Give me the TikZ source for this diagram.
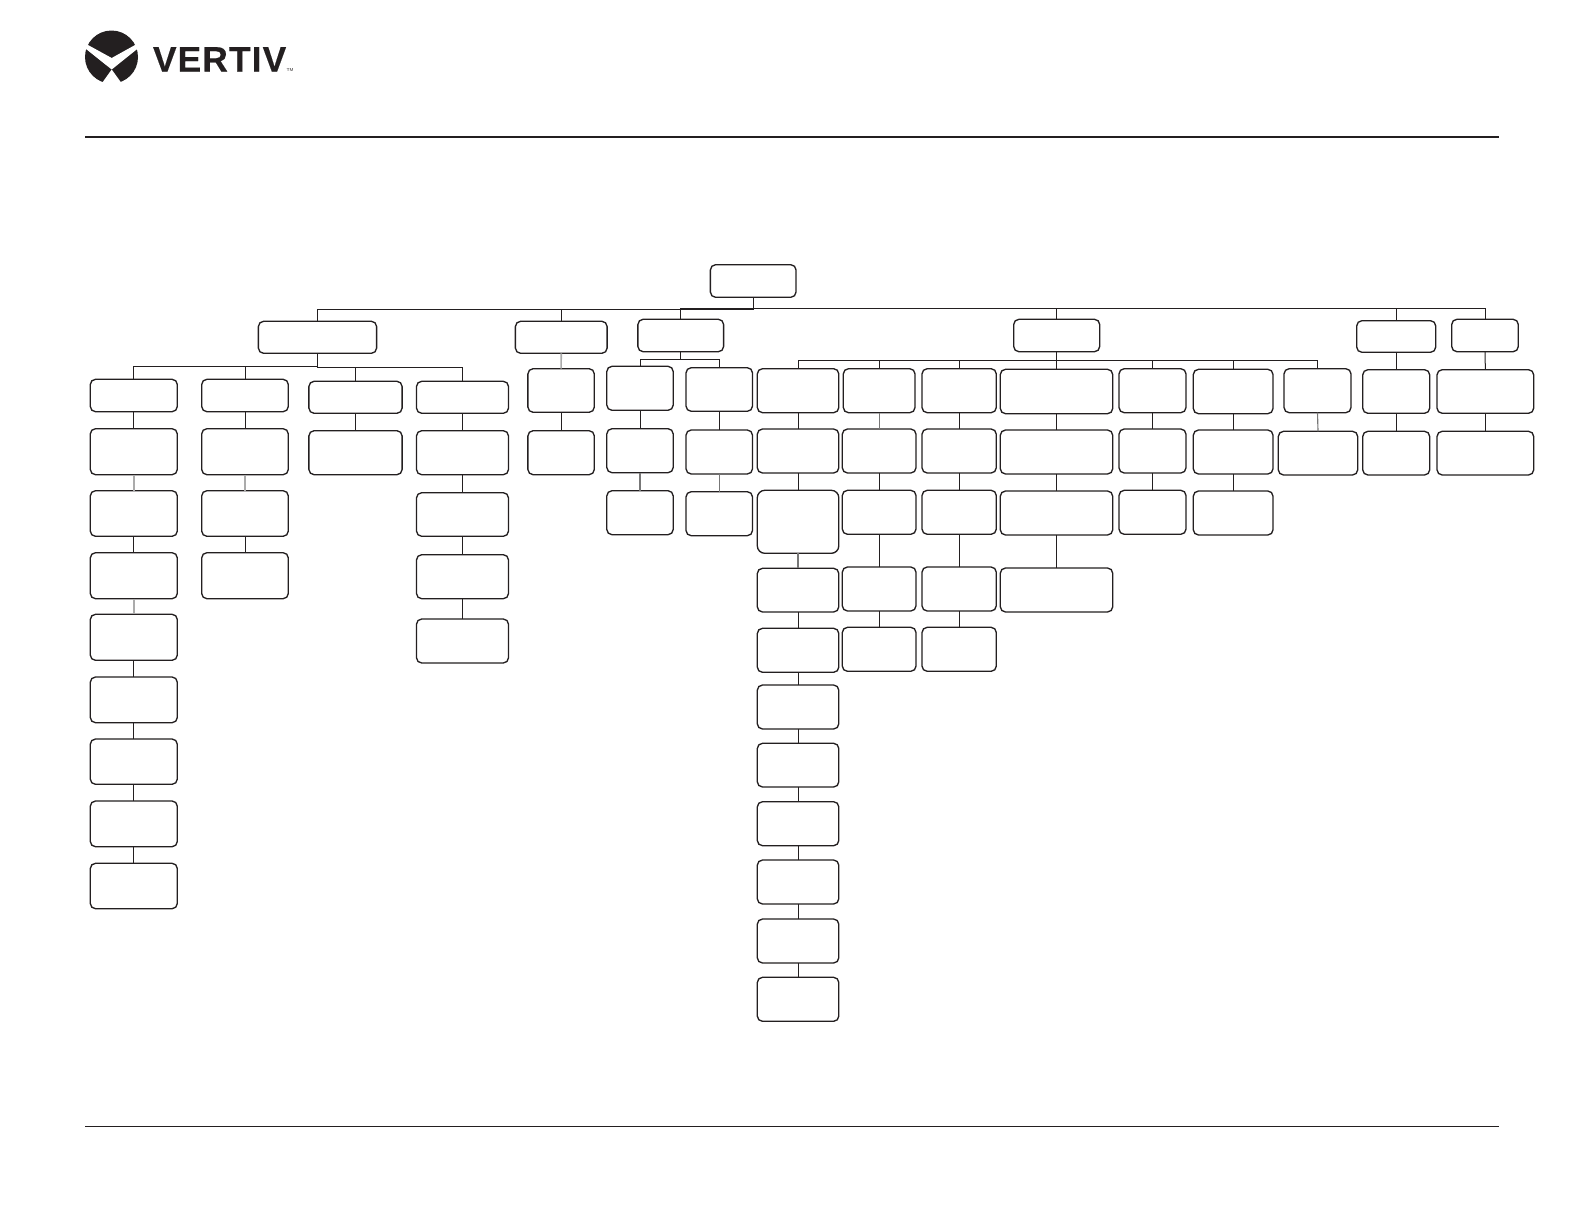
\documentclass[tikz,border=0pt]{standalone}
\usepackage{fontspec}
\newfontfamily\logofont[LetterSpace=3.2,BoldFeatures={FakeBold=0.35}]{Liberation Sans}
\definecolor{ink}{HTML}{231F20}
\definecolor{midline}{HTML}{777777}
\definecolor{paleline}{HTML}{ABABAB}
\tikzset{
  boxn/.style={draw=ink,fill=white,line width=1.0pt,rounded corners=3.9pt,inner sep=0pt,outer sep=0pt},
  bigbox/.style={rounded corners=5.6pt},
  con/.style={draw=ink,line width=.75pt},
  midcon/.style={draw=midline,line width=.85pt},
  palecon/.style={draw=paleline,line width=1.2pt},
  rulethick/.style={draw=ink,line width=1.55pt},
  rulethin/.style={draw=ink,line width=.8pt},
  logotext/.style={inner sep=0pt,outer sep=0pt,text=ink,anchor=base west}
}
\newcommand{\bx}[6][]{\node[boxn,#1,minimum width={(#4-#2)*.75pt},minimum height={(#5-#3)*.75pt}] (#6) at ({(#2+#4)/2},{(#3+#5)/2}) {};}
\begin{document}
\begin{tikzpicture}[x=.75pt,y=-.75pt]
\useasboundingbox (0,0) rectangle (1584,1224);
\fill[white] (0,0) rectangle (1584,1224);
% logo
\begin{scope}
\fill[ink] (111.5,57) circle (26.5);
\fill[white] (84,42.8) -- (111.7,58) -- (139,42.8) -- (139,47.6) -- (111.7,69.5) -- (84,47.4) -- cycle;
\fill[white] (111.7,69.5) -- (101,84.5) -- (122.5,84.5) -- cycle;
\end{scope}
\node[logotext] (logoword) at (153,71.5) {\logofont\fontsize{26.5}{26.5}\selectfont\bfseries VERTIV};
\node[logotext] (logotm) at (286.5,71.5) {\fontsize{3.2}{3.2}\selectfont\sffamily TM};
\coordinate (ruleAl) at (85,137);
\coordinate (ruleAr) at (1499,137);
\coordinate (ruleBl) at (85,1126.5);
\coordinate (ruleBr) at (1499,1126.5);
\draw[rulethick] (ruleAl) -- (ruleAr);
\draw[rulethin] (ruleBl) -- (ruleBr);
% top levels
\bx{710.4}{264.7}{796}{297.3}{root}
\bx{258.4}{321.3}{376.6}{353.3}{D}
\bx{515.4}{321.3}{607.1}{353.3}{E}
\bx{637.9}{319.3}{723.6}{351.7}{F}
\bx{1013.7}{319.3}{1099.7}{351.7}{H}
\bx{1356.7}{320.7}{1435.7}{352.3}{P}
\bx{1451.7}{319.3}{1518.3}{351.7}{Q}
% column A
\bx{90.3}{379.3}{177.3}{411.7}{A1}
\bx{90.3}{428.7}{177.3}{474.7}{A2}
\bx{90.3}{490.7}{177.3}{536.3}{A3}
\bx{90.3}{552.7}{177.3}{598.7}{A4}
\bx{90.3}{614.3}{177.3}{660.3}{A5}
\bx{90.3}{677}{177.3}{722.7}{A6}
\bx{90.3}{739}{177.3}{784.3}{A7}
\bx{90.3}{801}{177.3}{846.7}{A8}
\bx{90.3}{863.3}{177.3}{908.7}{A9}
% column B
\bx{201.7}{379.3}{288.3}{411.7}{B1}
\bx{201.7}{428.7}{288.3}{474.7}{B2}
\bx{201.7}{490.7}{288.3}{536.3}{B3}
\bx{201.7}{552.7}{288.3}{598.7}{B4}
% column C
\bx{308.9}{381.3}{402.1}{413.3}{C1}
\bx{308.9}{430.7}{402.1}{474.7}{C2}
% column G
\bx{416.5}{381.3}{508.5}{413.3}{G1}
\bx{416.5}{430.7}{508.5}{474.7}{G2}
\bx{416.5}{492.7}{508.5}{536.3}{G3}
\bx{416.5}{554.7}{508.5}{598.7}{G4}
\bx{416.5}{619}{508.5}{663}{G5}
% under E
\bx{527.9}{368.7}{594.3}{412.3}{E1}
\bx{527.9}{430.7}{594.3}{474.7}{E2}
% under F
\bx{606.8}{366.3}{673.2}{410.3}{Fa1}
\bx{606.8}{428.7}{673.2}{472.7}{Fa2}
\bx{606.8}{490.7}{673.2}{534.7}{Fa3}
\bx{686}{367.7}{752.5}{411.3}{Fb1}
\bx{686}{430}{752.5}{474}{Fb2}
\bx{686}{491.7}{752.5}{535.7}{Fb3}
% column I
\bx{757.3}{368.7}{838.8}{412.7}{I1}
\bx{757.3}{429}{838.8}{473}{I2}
\bx[bigbox]{757.3}{490.3}{838.8}{553.3}{I3}
\bx{757.3}{568.3}{838.8}{612}{I4}
\bx{757.3}{628.3}{838.8}{672.3}{I5}
\bx{757.3}{685}{838.8}{729}{I6}
\bx{757.3}{743.3}{838.8}{787}{I7}
\bx{757.3}{801.7}{838.8}{845.7}{I8}
\bx{757.3}{860}{838.8}{904}{I9}
\bx{757.3}{919}{838.8}{963}{I10}
\bx{757.3}{977.3}{838.8}{1021.3}{I11}
% column J
\bx{843.3}{368.7}{915}{412.7}{J1}
\bx{842.3}{429}{916}{473}{J2}
\bx{842.3}{490.3}{916}{534.3}{J3}
\bx{842.3}{567}{916}{611}{J4}
\bx{842.3}{627.3}{916}{671.3}{J5}
% column K
\bx{922}{368.7}{996.3}{412.7}{K1}
\bx{922}{429}{996.3}{473}{K2}
\bx{922}{490.3}{996.3}{534.3}{K3}
\bx{922}{567}{996.3}{611}{K4}
\bx{922}{627.3}{996.3}{671.3}{K5}
% column L
\bx{1000.3}{369.3}{1112.7}{413.7}{L1}
\bx{1000.3}{430}{1112.7}{474}{L2}
\bx{1000.3}{491}{1112.7}{535}{L3}
\bx{1000.3}{568}{1112.7}{612}{L4}
% column M
\bx{1119}{368.7}{1186}{412.7}{M1}
\bx{1119}{429}{1186}{473}{M2}
\bx{1119}{490.3}{1186}{534.3}{M3}
% column N
\bx{1193.3}{369.3}{1273}{413.7}{N1}
\bx{1193.3}{430}{1273}{474}{N2}
\bx{1193.3}{491}{1273}{535}{N3}
% column O
\bx{1284}{368.7}{1351}{412.7}{O1}
\bx{1278.3}{431.3}{1357.7}{475}{O2}
% under P and Q
\bx{1362.7}{369.7}{1429.7}{413.3}{P1}
\bx{1362.7}{431.3}{1429.7}{475}{P2}
\bx{1437}{369.7}{1533.7}{413.3}{Q1}
\bx{1437}{431.3}{1533.7}{475}{Q2}
% bus levels
\coordinate (busTL) at (317,309.3);
\coordinate (busTR) at (1056,308.3);
\coordinate (busDL) at (134,366.3);
\coordinate (busDR) at (400,367.7);
\coordinate (busF) at (680,359.7);
\coordinate (busH) at (1056,360.7);
% top buses
\draw[con] (root.south) -- (root.south |- busTL) -- (D.north |- busTL) -- (D.north);
\draw[con] (E.north |- busTL) -- (E.north);
\draw[con] (root.south |- busTR) -- (F.north |- busTR) -- (F.north);
\draw[con] (root.south |- busTR) -- (Q.north |- busTR) -- (Q.north);
\draw[con] (H.north |- busTR) -- (H.north);
\draw[con] (P.north |- busTR) -- (P.north);
% D bus
\draw[con] (A1.north) -- (A1.north |- busDL) -- (D.south |- busDL);
\draw[con] (D.south) -- (D.south |- busDR) -- (G1.north |- busDR) -- (G1.north);
\draw[con] (B1.north) -- (B1.north |- busDL);
\draw[con] (C1.north) -- (C1.north |- busDR);
% F bus
\draw[con] (F.south) -- (F.south |- busF);
\draw[con] (Fa1.north) -- (Fa1.north |- busF) -- (Fb1.north |- busF) -- (Fb1.north);
% H bus
\draw[con] (H.south) -- (H.south |- busH);
\draw[con] (I1.north) -- (I1.north |- busH) -- (O1.north |- busH) -- (O1.north);
\foreach \c in {J1,K1,L1,M1,N1} \draw[con] (\c.north |- busH) -- (\c.north);
% chains
\foreach \a/\b in {A1/A2,A3/A4,A5/A6,A6/A7,A7/A8,A8/A9,B1/B2,B3/B4,C1/C2,G1/G2,G2/G3,G3/G4,G4/G5,E1/E2,
  Fa1/Fa2,Fb1/Fb2,I1/I2,I2/I3,I4/I5,I5/I6,I6/I7,I7/I8,I8/I9,I9/I10,I10/I11,
  J2/J3,J3/J4,J4/J5,K1/K2,K2/K3,K3/K4,K4/K5,L1/L2,L2/L3,L3/L4,M1/M2,M2/M3,N1/N2,N2/N3,
  P/P1,P1/P2,Q/Q1,Q1/Q2}
  \draw[con] (\a.south) -- (\b.north);
\foreach \a/\b in {Fa2/Fa3,Fb2/Fb3,I3/I4,J1/J2,O1/O2}
  \draw[midcon] (\a.south) -- (\b.north);
\foreach \a/\b in {A2/A3,A4/A5,B2/B3,E/E1}
  \draw[palecon] (\a.south) -- (\b.north);
\end{tikzpicture}
\end{document}
